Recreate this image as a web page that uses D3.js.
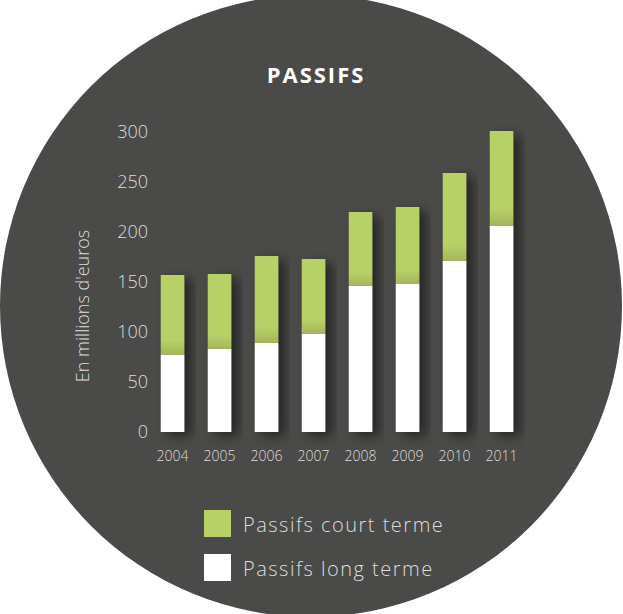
<!DOCTYPE html>
<html>
<head>
<meta charset="utf-8">
<script src="https://cdn.jsdelivr.net/npm/d3@7"></script>
<style>
  body { margin: 0; background: #fff; }
  text { font-family: "Open Sans", sans-serif; }
</style>
</head>
<body>
<div id="chart"></div>
<script>
//chart data
const years = ["2004", "2005", "2006", "2007", "2008", "2009", "2010", "2011"];
const longTerm = [77, 83, 89, 98, 146, 148, 171, 206];
const shortTerm = [80, 75, 87, 75, 74, 77, 88, 95];
const yTicks = [0, 50, 100, 150, 200, 250, 300];
const seriesNames = ["Passifs court terme", "Passifs long terme"];

const width = 623;
const height = 614;

const svg = d3.select("#chart")
  .append("svg")
  .attr("width", width)
  .attr("height", height);

const defs = svg.append("defs");

//soft shadow behind the bars
const shadow = defs.append("filter")
  .attr("id", "shadow")
  .attr("x", "-50%").attr("y", "-20%")
  .attr("width", "200%").attr("height", "140%");
shadow.append("feDropShadow")
  .attr("dx", 7).attr("dy", 4)
  .attr("stdDeviation", 6)
  .attr("flood-color", "#000")
  .attr("flood-opacity", 0.5);

//green gets a little darker near the white part
const grad = defs.append("linearGradient")
  .attr("id", "green")
  .attr("x1", 0).attr("y1", 0).attr("x2", 0).attr("y2", 1);
grad.append("stop").attr("offset", "0%").attr("stop-color", "#b8d068");
grad.append("stop").attr("offset", "82%").attr("stop-color", "#b8d068");
grad.append("stop").attr("offset", "100%").attr("stop-color", "#a4b559");

//background circle
svg.append("circle")
  .attr("cx", 311)
  .attr("cy", 306)
  .attr("r", 311)
  .attr("fill", "#4a4a48");

//title
svg.append("text")
  .attr("x", 316)
  .attr("y", 83)
  .attr("text-anchor", "middle")
  .attr("fill", "#fff")
  .attr("font-size", 22)
  .attr("font-weight", "bold")
  .attr("letter-spacing", 2)
  .text("PASSIFS");

const x = d3.scaleBand()
  .domain(years)
  .range([149, 525])
  .paddingInner(0.5)
  .paddingOuter(0.25);

const y = d3.scaleLinear()
  .domain([0, 300])
  .range([432, 132]);

//y axis labels
const yAxis = svg.append("g")
  .attr("transform", "translate(148,0)")
  .call(d3.axisLeft(y).tickValues(yTicks).tickSize(0).tickPadding(0));
yAxis.select(".domain").remove();
yAxis.selectAll("text")
  .attr("fill", "#ddd")
  .attr("font-size", 18)
  .attr("font-family", "Open Sans, sans-serif")
  .attr("font-weight", 300);

//x axis labels
const xAxis = svg.append("g")
  .attr("transform", "translate(0,451)")
  .call(d3.axisBottom(x).tickSize(0).tickPadding(0));
xAxis.select(".domain").remove();
xAxis.selectAll("text")
  .attr("fill", "#ddd")
  .attr("font-size", 14)
  .attr("font-family", "Open Sans, sans-serif")
  .attr("font-weight", 300);

//axis title
svg.append("text")
  .attr("transform", "translate(89,306) rotate(-90)")
  .attr("text-anchor", "middle")
  .attr("fill", "#ddd")
  .attr("font-size", 18)
  .attr("font-weight", 300)
  .text("En millions d'euros");

//stacked bars
const bars = svg.append("g").selectAll("g")
  .data(years)
  .enter()
  .append("g")
  .attr("filter", "url(#shadow)");

bars.append("rect")
  .attr("x", d => x(d))
  .attr("width", x.bandwidth())
  .attr("y", (d, i) => y(longTerm[i] + shortTerm[i]))
  .attr("height", (d, i) => y(longTerm[i]) - y(longTerm[i] + shortTerm[i]))
  .attr("fill", "url(#green)");

bars.append("rect")
  .attr("x", d => x(d))
  .attr("width", x.bandwidth())
  .attr("y", (d, i) => y(longTerm[i]))
  .attr("height", (d, i) => y(0) - y(longTerm[i]))
  .attr("fill", "#fff");

//legend
const legendColors = ["#b8d068", "#fff"];
const legend = svg.append("g").selectAll("g")
  .data(seriesNames)
  .enter()
  .append("g")
  .attr("transform", (d, i) => `translate(204,${510 + i * 44})`);

legend.append("rect")
  .attr("width", 27)
  .attr("height", 27)
  .attr("fill", (d, i) => legendColors[i]);

legend.append("text")
  .attr("x", 39)
  .attr("y", 22)
  .attr("fill", "#ddd")
  .attr("font-size", 20)
  .attr("font-weight", 300)
  .attr("letter-spacing", 1.5)
  .text(d => d);
</script>
</body>
</html>
